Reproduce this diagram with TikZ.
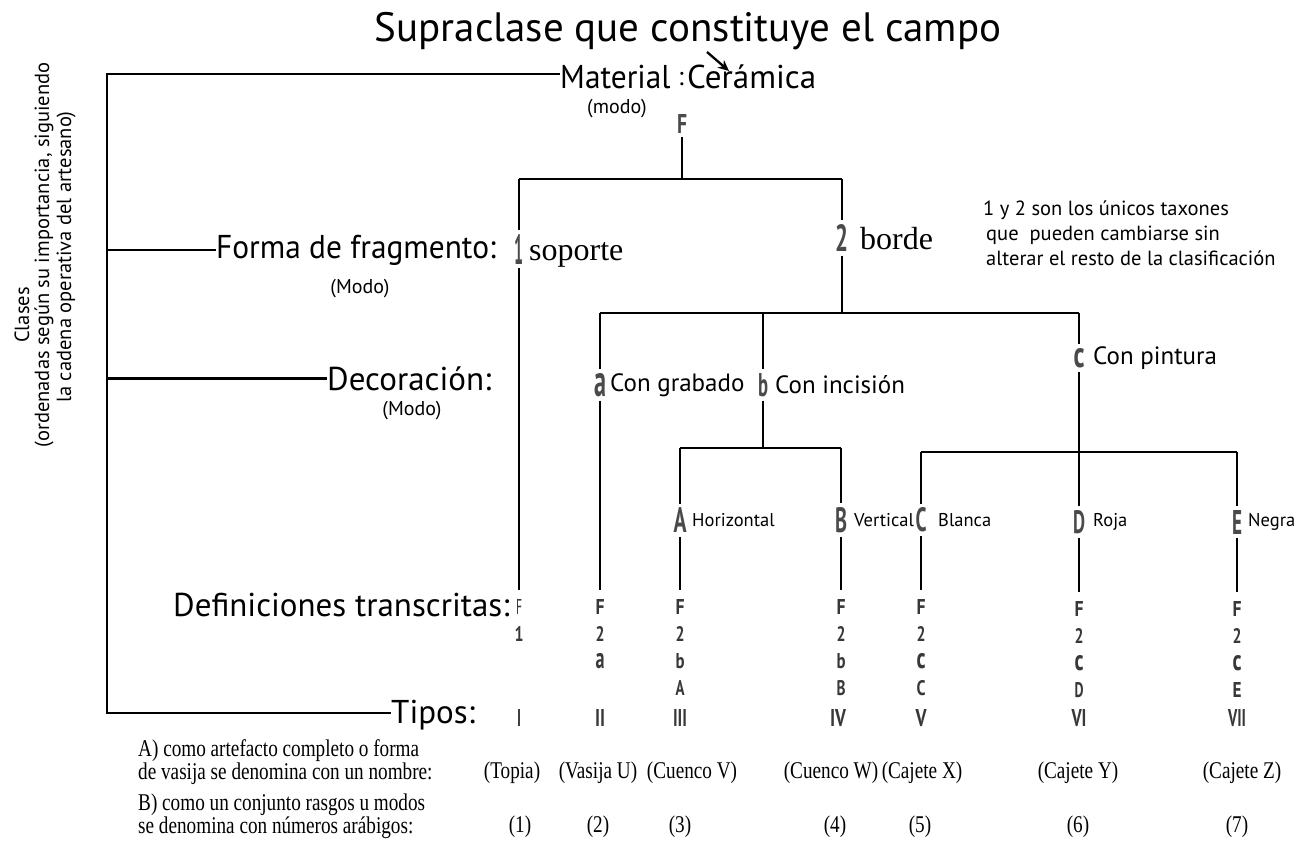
\documentclass[tikz,border=0pt]{standalone}
\usepackage{fontspec}
\setmainfont{Liberation Serif}
\newfontfamily\ssf{PT Sans}
\usetikzlibrary{arrows.meta}
\definecolor{lg}{HTML}{4A4A4A}
\definecolor{sg}{HTML}{383838}
\newcommand\gl[3]{\resizebox{#1pt}{#2pt}{\ssf\bfseries #3}}
\newcommand\sk[1]{\resizebox{9pt}{15pt}{\ssf\bfseries #1}}
\newcommand\rn[2]{\resizebox{#1pt}{17pt}{\ssf\bfseries #2}}
\newcommand\fsz[1]{\fontsize{#1}{#1}\selectfont}
\newcommand\cnd[1]{\scalebox{0.8}[1]{#1}}
\begin{document}
\begin{tikzpicture}[x=1pt,y=-1pt,
  ln/.style={line width=2.6pt},
  tl/.style={inner sep=0pt, outer sep=4pt, text=lg},
  lab/.style={inner sep=0pt},
  big/.style={inner sep=0pt, font=\ssf\fsz{33}},
  modo/.style={inner sep=0pt, font=\ssf\fsz{20}},
  sub/.style={inner sep=0pt, font=\ssf\fsz{25}},
  small/.style={inner sep=0pt, font=\ssf\fsz{18.5}},
  stk/.style={inner sep=0pt, outer sep=9pt, align=center, anchor=north, text=sg, font=\fontsize{15}{27}\selectfont},
  rom/.style={inner sep=0pt, text=sg},
  bt/.style={inner sep=0pt, font=\fsz{24}},
  rot/.style={inner sep=0pt, rotate=90, font=\ssf\fsz{20.5}}]
\fill[white] (0,0) rectangle (1309,848);
\useasboundingbox (0,0) rectangle (1309,848);

% title and arrow
\node[lab, anchor=base, font=\ssf\fsz{41}] (title) at (688,42) {Supraclase que constituye el campo};
\coordinate (aS) at (707,52);
\coordinate (aE) at (729,71);
\draw[line width=2.3pt, -{Stealth[length=11pt,width=10pt]}] (aS) -- (aE);

% class labels
\node[big, anchor=base west] (mat) at (560,89) {\scalebox{0.95}[1]{Material}};
\node[lab, anchor=base, font=\ssf\fsz{26}] (colon) at (681,86) {:};
\node[big, anchor=base west] (cer) at (687,89) {Cerámica};
\node[modo] (modo0) at (617,109) {(modo)};
\node[big, anchor=base west] (forma) at (216,258) {\scalebox{0.95}[1]{Forma de fragmento:}};
\node[modo] (modo1) at (360,289) {(Modo)};
\node[big, anchor=base west] (deco) at (327,390) {Decoración:};
\node[modo] (modo2) at (412,411) {(Modo)};
\node[big, anchor=base west] (defs) at (173,616) {Definiciones transcritas:};
\node[big, anchor=base west] (tipos) at (391,723) {Tipos:};

% rotated side text
\node[rot] (cl1) at (22,315) {Clases};
\node[rot] (cl2) at (44,255) {(ordenadas según su importancia, siguiendo};
\node[rot] (cl3) at (66,257) {la cadena operativa del artesano)};

% left bracket
\coordinate (cTop) at (107,74);
\coordinate (cBot) at (107,713);
\draw[ln] (mat.west |- cTop) -- (cTop) -- (cBot) -- (cBot -| tipos.west);
\draw[ln] (cTop |- forma.west) -- (forma.west);
\draw[ln] (cTop |- deco.west) -- (deco.west);

% tree letters
\node[tl] (nF) at (682,124) {\gl{10}{19}{F}};
\node[tl] (n1) at (519,249) {\gl{9}{30}{1}};
\node[tl] (n2) at (842,238) {\gl{13}{27}{2}};
\node[tl] (na) at (600,385) {\gl{12}{23}{a}};
\node[tl] (nb) at (763,385) {\gl{10}{23}{b}};
\node[tl] (nc) at (1079,358) {\gl{11}{19}{c}};
\node[tl] (nA) at (680,520) {\gl{13}{25}{A}};
\node[tl] (nB) at (841,520) {\gl{12}{25}{B}};
\node[tl] (nC) at (921,520) {\gl{11}{24}{C}};
\node[tl] (nD) at (1079,522) {\gl{12}{23}{D}};
\node[tl] (nE) at (1237,522) {\gl{10}{24}{E}};

% tree texts
\node[lab, anchor=base west, font=\fsz{32}] (sop) at (529,260) {soporte};
\node[lab, anchor=base west, font=\fsz{32}] (bor) at (860,249) {borde};
\node[sub, anchor=west] (grab) at (610,385) {Con grabado};
\node[sub, anchor=west] (inci) at (775,385) {Con incisión};
\node[sub, anchor=west] (pint) at (1093,358) {Con pintura};
\node[small, anchor=west] (hor) at (692,520) {Horizontal};
\node[small, anchor=west] (ver) at (854,520) {Vertical};
\node[small, anchor=west] (bla) at (938,520) {Blanca};
\node[small, anchor=west] (roj) at (1093,522) {Roja};
\node[small, anchor=west] (neg) at (1248,522) {Negra};
\node[lab, anchor=north west, align=left, font=\ssf\fontsize{20.5}{25}\selectfont] (note) at (983,201)
  {1 y 2 son los únicos taxones\\\hspace*{3pt}que\ \ pueden cambiarse sin\\\hspace*{3pt}alterar el resto de la clasificación};

% junctions
\coordinate (j0) at (682,179);
\coordinate (jL) at (519,179);
\coordinate (jR) at (842,179);
\coordinate (k0) at (842,313);
\coordinate (ka) at (600,313);
\coordinate (kb) at (763,313);
\coordinate (kc) at (1079,313);
\coordinate (m0) at (763,448);
\coordinate (mA) at (680,448);
\coordinate (mB) at (841,448);
\coordinate (pC) at (921,452);
\coordinate (pE) at (1237,452);

% stacks (definiciones transcritas)
\node[stk] (s1) at (519,590) {\resizebox{6pt}{15pt}{\ssf F}\\\sk{1}};
\node[stk] (s2) at (600,590) {\sk{F}\\\sk{2}\\\sk{a}};
\node[stk] (s3) at (680,590) {\sk{F}\\\sk{2}\\\sk{b}\\\sk{A}};
\node[stk] (s4) at (841,590) {\sk{F}\\\sk{2}\\\sk{b}\\\sk{B}};
\node[stk] (s5) at (921,590) {\sk{F}\\\sk{2}\\\sk{c}\\\sk{C}};
\node[stk] (s6) at (1079,592) {\sk{F}\\\sk{2}\\\sk{c}\\\sk{D}};
\node[stk] (s7) at (1237,592) {\sk{F}\\\sk{2}\\\sk{c}\\\sk{E}};

% connectors
\draw[ln] (nF) -- (j0);
\draw[ln] (jL) -- (jR);
\draw[ln] (jL) -- (n1);
\draw[ln] (n1) -- (s1);
\draw[ln] (jR) -- (n2);
\draw[ln] (n2) -- (k0);
\draw[ln] (ka) -- (kc);
\draw[ln] (ka) -- (na);
\draw[ln] (na) -- (s2);
\draw[ln] (kb) -- (nb);
\draw[ln] (nb) -- (m0);
\draw[ln] (mA) -- (mB);
\draw[ln] (mA) -- (nA);
\draw[ln] (nA) -- (s3);
\draw[ln] (mB) -- (nB);
\draw[line width=1.3pt] (nB) -- (s4);
\draw[ln] (kc) -- (nc);
\draw[ln] (nc) -- (nD);
\draw[ln] (nD) -- (s6);
\draw[ln] (pC) -- (pE);
\draw[ln] (pC) -- (nC);
\draw[ln] (nC) -- (s5);
\draw[ln] (pE) -- (nE);
\draw[ln] (nE) -- (s7);

% tipos numerals
\node[rom] (r1) at (519,718) {\rn{4}{I}};
\node[rom] (r2) at (600,718) {\rn{10}{II}};
\node[rom] (r3) at (680,718) {\rn{14}{III}};
\node[rom] (r4) at (838,718) {\rn{16}{IV}};
\node[rom] (r5) at (921,718) {\rn{11}{V}};
\node[rom] (r6) at (1079,718) {\rn{15}{VI}};
\node[rom] (r7) at (1237,718) {\rn{18}{VII}};

% bottom rows
\node[bt, anchor=west, align=left, font=\fontsize{24}{23}\selectfont] (rowA) at (138,762)
  {\cnd{A) como artefacto completo o forma}\\\cnd{de vasija se denomina con un nombre:}};
\node[bt, anchor=west, align=left, font=\fontsize{24}{23}\selectfont] (rowB) at (138,816)
  {\cnd{B) como un conjunto rasgos u modos}\\\cnd{se denomina con números arábigos:}};
\node[bt] (t1) at (512,773) {\cnd{(Topia)}};
\node[bt] (t2) at (598,773) {\cnd{(Vasija U)}};
\node[bt] (t3) at (692,773) {\cnd{(Cuenco V)}};
\node[bt] (t4) at (831,773) {\cnd{(Cuenco W)}};
\node[bt] (t5) at (922,773) {\cnd{(Cajete X)}};
\node[bt] (t6) at (1078,773) {\cnd{(Cajete Y)}};
\node[bt] (t7) at (1242,773) {\cnd{(Cajete Z)}};
\node[bt] (u1) at (520,827) {\cnd{(1)}};
\node[bt] (u2) at (598,827) {\cnd{(2)}};
\node[bt] (u3) at (680,827) {\cnd{(3)}};
\node[bt] (u4) at (835,827) {\cnd{(4)}};
\node[bt] (u5) at (920,827) {\cnd{(5)}};
\node[bt] (u6) at (1078,827) {\cnd{(6)}};
\node[bt] (u7) at (1237,827) {\cnd{(7)}};
\end{tikzpicture}
\end{document}
